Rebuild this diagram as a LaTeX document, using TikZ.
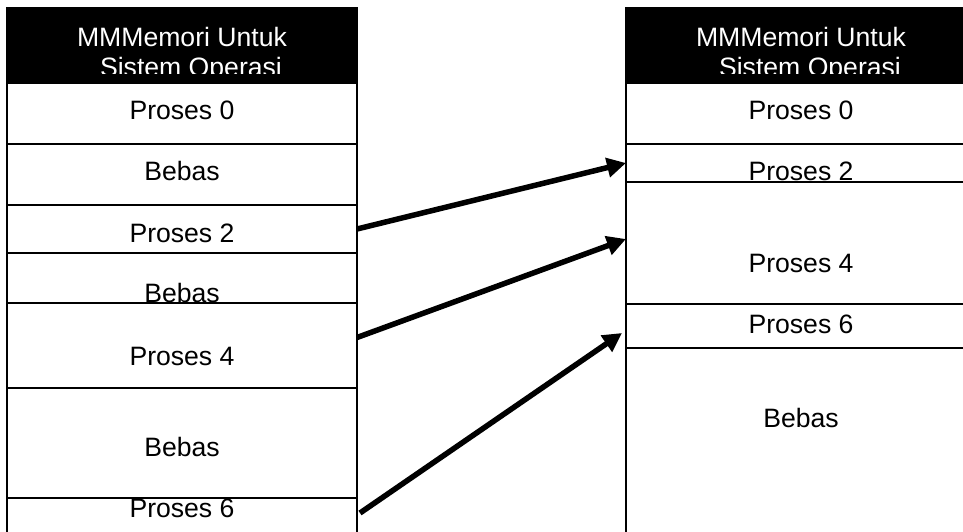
\documentclass[tikz,border=0pt]{standalone}
\usepackage{fontspec}
\setmainfont{Liberation Sans}
\usetikzlibrary{arrows.meta}
\tikzset{
  box/.style={draw, line width=1.5pt, fill=white, anchor=north west, inner sep=0pt, outer sep=0pt, minimum width=350pt},
  hdr/.style={box, fill=black},
  lbl/.style={anchor=base, inner sep=0pt, font=\fontsize{26.6}{30}\selectfont},
  hlbl/.style={lbl, text=white},
  move/.style={line width=5.5pt, -{Triangle[length=19pt,width=19pt]}}
}
\begin{document}
\begin{tikzpicture}[x=1pt,y=-1pt]
\useasboundingbox (0,0) rectangle (963,531);
\clip (0,0) rectangle (963,531);
% ---------- left column ----------
\node[hdr, minimum height=75pt] (LH) at (7,8) {};
\begin{scope}
  \clip (8,9) rectangle (356,73);
  \node[hlbl] (LHa) at (182,46) {MMMemori Untuk};
  \node[hlbl] (LHb) at (191,76) {Sistem Operasi};
\end{scope}
\node[box, minimum height=61pt] (L0) at (7,83) {};
\node[lbl] (L0t) at (182,119) {Proses 0};
\node[box, minimum height=61pt] (L1) at (7,144) {};
\node[lbl] (L1t) at (182,180) {Bebas};
\node[box, minimum height=48pt] (L2) at (7,205) {};
\node[lbl] (L2t) at (182,242) {Proses 2};
\node[box, minimum height=50pt] (L3) at (7,253) {};
\node[lbl] (L3t) at (182,302) {Bebas};
\node[box, minimum height=85pt] (L4) at (7,303) {};
\node[lbl] (L4t) at (182,365) {Proses 4};
\node[box, minimum height=110pt] (L5) at (7,388) {};
\node[lbl] (L5t) at (182,456) {Bebas};
\node[box, minimum height=42pt] (L6) at (7,498) {};
\node[lbl] (L6t) at (182,517) {Proses 6};
% ---------- right column ----------
\node[hdr, minimum height=75pt] (RH) at (626,8) {};
\begin{scope}
  \clip (627,9) rectangle (975,73);
  \node[hlbl] (RHa) at (801,46) {MMMemori Untuk};
  \node[hlbl] (RHb) at (810,76) {Sistem Operasi};
\end{scope}
\node[box, minimum height=61pt] (R0) at (626,83) {};
\node[lbl] (R0t) at (801,119) {Proses 0};
\node[box, minimum height=38pt] (R2) at (626,144) {};
\node[lbl] (R2t) at (801,180.5) {Proses 2};
\node[box, minimum height=122pt] (R4) at (626,182) {};
\node[lbl] (R4t) at (801,272) {Proses 4};
\node[box, minimum height=44pt] (R6) at (626,304) {};
\node[lbl] (R6t) at (801,333) {Proses 6};
\node[box, minimum height=192pt] (RB) at (626,348) {};
\node[lbl] (RBt) at (801,427) {Bebas};
% ---------- arrows ----------
\draw[move] (L2.east) -- (R2.west);
\draw[move] ([yshift=8pt]L4.east) -- ([yshift=4pt]R4.west);
\draw[move] ([xshift=3pt,yshift=6pt]L6.east) -- ([xshift=-4pt,yshift=-7pt]R6.west);
\end{tikzpicture}
\end{document}
